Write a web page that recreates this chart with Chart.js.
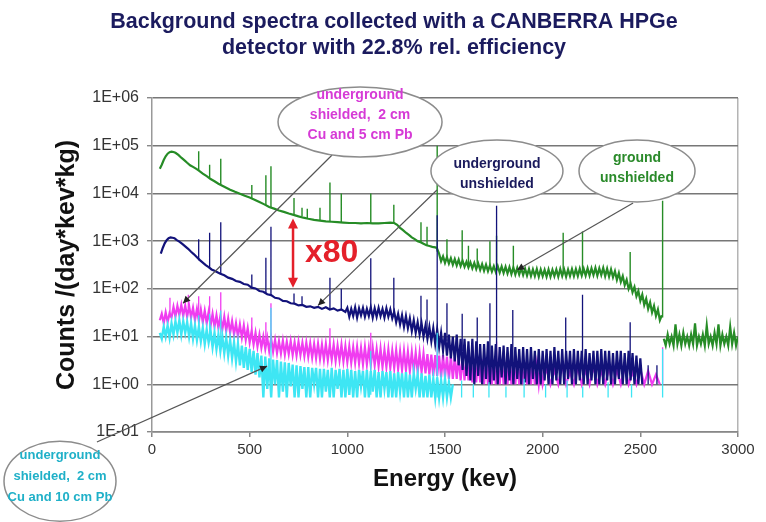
<!DOCTYPE html>
<html><head><meta charset="utf-8">
<script src="https://cdn.jsdelivr.net/npm/chart.js@4.4.0/dist/chart.umd.min.js"></script>
<style>html,body{margin:0;padding:0;background:#fff}canvas{display:block}</style>
</head><body>
<canvas id="c" width="766" height="522"></canvas>
<script>
// ---------- axis ticks ----------
const energyTicks = [0, 500, 1000, 1500, 2000, 2500, 3000];
const countTicks = [0.1, 1, 10, 100, 1000, 10000, 100000, 1000000];
const countLabels = ['1E-01', '1E+00', '1E+01', '1E+02', '1E+03', '1E+04', '1E+05', '1E+06'];
const titleLines = ['Background spectra collected with a CANBERRA HPGe', 'detector with 22.8% rel. efficiency'];

// ---------- ground unshielded (green) ----------
const groundSmoothE = [40,50,60,70,80,90,100,110,120,135,150,165,180,195,210,225,240,260,280,300,320,340,360,380,400,425,450,475,500,525,550,575,600,625,650,675,700,725,750,775,800,830,860,890,920,950,980,1010,1040,1070,1100,1130,1160,1190,1220,1240,1255,1270,1285,1300,1315,1330,1345,1360,1375,1390,1405,1420,1435,1450,1458];
const groundSmoothC = [3.3e4,4.0e4,5.0e4,6.0e4,6.8e4,7.3e4,7.5e4,7.4e4,7.1e4,6.4e4,5.6e4,5.0e4,4.4e4,3.9e4,3.6e4,3.3e4,3.0e4,2.6e4,2.3e4,2.0e4,1.8e4,1.6e4,1.45e4,1.32e4,1.2e4,1.08e4,9.8e3,8.9e3,8.2e3,7.4e3,6.6e3,5.9e3,5.2e3,4.8e3,4.4e3,4.1e3,3.8e3,3.55e3,3.3e3,3.1e3,2.95e3,2.8e3,2.7e3,2.6e3,2.55e3,2.5e3,2.45e3,2.4e3,2.4e3,2.35e3,2.4e3,2.35e3,2.35e3,2.4e3,2.45e3,2.4e3,2.2e3,1.9e3,1.7e3,1.5e3,1.35e3,1.2e3,1.1e3,1.0e3,950,880,820,790,760,740,720];
const groundNoisyE = [1470,1480,1490,1500,1510,1520,1530,1540,1550,1560,1570,1580,1590,1600,1610,1620,1630,1640,1650,1660,1670,1680,1690,1700,1710,1720,1730,1740,1750,1760,1770,1780,1790,1800,1810,1820,1830,1840,1850,1860,1870,1880,1890,1900,1910,1920,1930,1940,1950,1960,1970,1980,1990,2000,2010,2020,2030,2040,2050,2060,2070,2080,2090,2100,2110,2120,2130,2140,2150,2160,2170,2180,2190,2200,2210,2220,2230,2240,2250,2260,2270,2280,2290,2300,2310,2320,2330,2340,2350,2360,2370,2380,2390,2400,2410,2420,2430,2440,2450,2460,2470,2480,2490,2500,2510,2520,2530,2540,2550,2560,2570,2580,2590,2600,2610];
const groundNoisyC = [540,380,480,350,460,340,440,320,420,310,
  410,300,390,290,370,280,360,270,350,260,
  340,250,330,240,320,235,310,230,300,225,
  300,220,295,215,290,210,285,205,280,200,
  275,200,270,195,265,190,260,185,255,185,
  260,180,255,185,250,180,255,180,250,185,
  255,180,260,185,255,180,255,185,260,185,
  260,185,265,190,265,190,270,190,270,195,
  275,190,270,195,275,185,265,180,255,175,
  235,155,215,140,185,120,155,100,130,85,
  110,70,90,56,76,46,62,38,52,32,
  44,27,37,22,28];
const groundTailE = [2620,2630,2640,2650,2660,2670,2680,2690,2700,2710,2720,2730,2740,2750,2760,2770,2780,2790,2800,2810,2820,2830,2840,2850,2860,2870,2880,2890,2900,2910,2920,2930,2940,2950,2960,2970,2980,2990,3000];
const groundTailC = [9,6.5,11,7,10,6.5,18,7,11,6.5,
  12,7,10,6.5,11,7,19,6.5,10,7,
  11,6.5,17,7,10,6.5,12,7,18,6.5,
  11,7,10,6.5,16,7,12,6.5,10];
const groundPeakE    = [239,295,352,511,583,609,727,768,795,860,911,969,1120,1238,1377,1408,1460,1510,1588,1620,1665,1730,1764,1850,2105,2204,2448,2614];
const groundPeakTop  = [7.7e4,4.0e4,5.3e4,1.5e4,2.4e4,3.7e4,8.0e3,5.0e3,4.8e3,5.0e3,1.7e4,1.0e4,1.0e4,5.8e3,2.5e3,2.0e3,1.0e5,1.1e3,1.7e3,800,700,1.0e3,1.3e3,800,1.5e3,1.6e3,590,7.0e3];
const groundPeakBase = [3.0e4,2.05e4,1.55e4,8.0e3,5.7e3,5.1e3,3.6e3,3.3e3,3.0e3,2.7e3,2.55e3,2.45e3,2.3e3,2.35e3,920,800,600,420,350,330,320,290,280,260,220,230,130,25];

// ---------- underground unshielded (navy) ----------
const ugSmoothE = [45,55,65,75,85,95,105,115,125,140,155,170,185,200,215,230,245,260,275,290,305,320,335,350,370,390,410,430,450,470,490,510,530,550,570,590,610,630,650,670,690,710,730,750,770,790,810,830,850,870,890,910,930,950,970,990];
const ugSmoothC = [550,720,900,1050,1150,1200,1180,1150,1060,980,880,780,690,600,530,460,400,355,315,285,255,240,222,208,192,172,162,146,140,126,122,106,102,90,87,77,74,65,63,56,55,50,49,45,46,42,43,40,42,38,41,37,39,35,37,33];
const ugNoisyE = [1000,1010,1020,1030,1040,1050,1060,1070,1080,1090,1100,1110,1120,1130,1140,1150,1160,1170,1180,1190,1200,1210,1220,1230,1240,1250,1260,1270,1280,1290,1300,1310,1320,1330,1340,1350,1360,1370,1380,1390,1400,1410,1420,1430,1440,1450,1460,1470,1480,1490,1500,1510,1520,1530,1540,1550,1560,1570,1580,1590,1600,1610,1620,1630,1640,1650,1660,1670,1680,1690,1700,1710,1720,1730,1740,1750,1760,1770,1780,1790,1800,1810,1820,1830,1840,1850,1860,1870,1880,1890,1900,1910,1920,1930,1940,1950,1960,1970,1980,1990,2000,2010,2020,2030,2040,2050,2060,2070,2080,2090,2100,2110,2120,2130,2140,2150,2160,2170,2180,2190,2200,2210,2220,2230,2240,2250,2260,2270,2280,2290,2300,2310,2320,2330,2340,2350,2360,2370,2380,2390,2400,2410,2420,2430,2440,2450,2460,2470,2480,2490,2500,2510];
const ugNoisyC = [40,26,38,27,41,25,39,28,40,26,
  38,27,41,25,39,26,40,27,38,25,
  39,26,37,24,33,20,30,18,28,16,
  27,15,24,13,22,12,20,11,19,10,
  17,9,16,8,15,7,14,6,12,5,
  12,4,11,3.5,10,3,11,2.5,9,2,
  9,1.5,8,1.2,9,1,8,1.5,7,1,
  7,1.3,8,1,6.5,1.2,7,1,6,1.4,
  6.5,1,6,1.2,7,1,6,1.3,5.5,1,
  6,1.1,5.5,1,6,1.3,5,1,5.5,1,
  5,1.2,5.5,1,5,1,6,1.2,5,1,
  5.5,1,5,1.3,5,1,5.5,1,5,1.2,
  5,1,5.5,1,4.5,1.2,5,1,5,1,
  5.5,1,5,1.2,5,1,4.5,1,5,1.3,
  5,1,4.5,1,5,1.2,4.5,1,4,1,
  3.5,1];
const ugPeakE    = [239,295,352,511,583,609,727,768,911,969,1120,1238,1377,1408,1460,1510,1588,1665,1730,1764,1847,2118,2204,2448,2540,2585];
const ugPeakTop  = [1100,1500,2500,200,450,2000,80,70,170,100,440,170,72,60,3500,50,30,25,50,5500,36,25,75,20,2.5,2.5];
const ugPeakBase = [400,270,210,108,80,72,50,45,38,35,30,28,14,12,10,8,5,4,3,3,3,3,3,2,1,1];

// ---------- underground shielded, 2 cm Cu + 5 cm Pb (magenta) ----------
const sh5E = [40,50,60,70,80,90,100,110,120,130,140,150,160,170,180,190,200,210,220,230,240,250,260,270,280,290,300,310,320,330,340,350,360,370,380,390,400,410,420,430,440,450,460,470,480,490,500,510,520,530,540,550,560,570,580,590,600,610,620,630,640,650,660,670,680,690,700,710,720,730,740,750,760,770,780,790,800,810,820,830,840,850,860,870,880,890,900,910,920,930,940,950,960,970,980,990,1000,1010,1020,1030,1040,1050,1060,1070,1080,1090,1100,1110,1120,1130,1140,1150,1160,1170,1180,1190,1200,1210,1220,1230,1240,1250,1260,1270,1280,1290,1300,1310,1320,1330,1340,1350,1360,1370,1380,1390,1400,1410,1420,1430,1440,1450,1460,1470,1480,1490,1500,1510,1520,1530,1540,1550,1560,1570,1580,1590,1600,1610,1620,1630,1640,1650,1660,1670,1680,1690,1700,1710,1720,1730,1740,1750,1760,1770,1780,1790,1800,1810,1820,1830,1840,1850,1860,1870,1880,1890,1900,1910,1920,1930,1940,1950,1960,1970,1980,1990,2000,
  2020,2040,2060,2080,2100,2120,2140,2160,2180,2200,2220,2240,2260,2280,2300,2320,2340,2360,2380,2400,2420,2440,2460,2480,2500,2520,2540,2560,2580,2600];
const sh5C = [22,30,19,32,20,31,25,42,26,44,
  28,46,27,45,26,44,25,40,22,38,
  21,37,20,35,19,33,17,30,16,28,
  15,27,14,26,13,24,12,21,11,19,
  10,18,9.5,17,8.5,15,7.5,13,6.8,12,
  6.2,11,5.8,10,5.5,9.5,5,9,4.8,8.5,
  4.5,8,4.4,8.2,4.2,7.8,4.3,8,4.1,7.6,
  4,7.8,4.1,7.4,3.9,7.5,3.8,7.2,3.6,7,
  3.5,7.1,3.4,6.8,3.3,7,3.2,6.6,3.3,6.8,
  3.1,6.5,3.2,6.7,3,6.3,2.9,6.2,2.8,6,
  2.8,6.1,2.7,5.8,2.6,6,2.6,5.7,2.5,5.8,
  2.5,5.5,2.4,5.6,2.3,5.3,2.3,5.4,2.2,5.1,
  2.2,5.2,2.1,4.9,2,5,2,4.8,1.9,4.7,
  1.9,4.6,1.8,4.5,1.8,4.4,1.7,4.3,1.6,4.2,
  1.5,4.1,1.5,4,1.4,4.1,1.4,3.8,1.3,3.9,
  1.3,3.7,1.3,3.8,1.2,3.6,1.2,3.5,1.2,3.6,
  1.1,3.4,1.1,3.5,1.1,3.3,1,3.2,1,3.1,
  1,3.2,1,3,1,3.1,1,2.9,1,3,
  1,2.8,1,2.9,1,2.7,1,2.8,1,2.6,
  1,2.7,1,2.5,1,2.6,1,
  2.2,1,2,1,2.5,1,1.8,1,2.3,1,
  2,1,2.4,1,1.9,1,2.2,1,2,1,
  2.3,1,1.8,1,2.1,1,1.9,1,1.6,1];
const sh5PeakE    = [92,186,239,295,352,511,583,609,911,1120,1460,1764,2614];
const sh5PeakTop  = [65,75,70,70,85,25,20,50,15,12,15,8,6];
const sh5PeakBase = [25,40,30,25,20,12,8,6,5,4,3,2,1];

// ---------- underground shielded, 2 cm Cu + 10 cm Pb (cyan) ----------
const sh10E = [40,50,60,70,80,90,100,110,120,130,140,150,160,170,180,190,200,210,220,230,240,250,260,270,280,290,300,310,320,330,340,350,360,370,380,390,400,410,420,430,440,450,460,470,480,490,500,510,520,530,540,550,560,570,580,590,600,610,620,630,640,650,660,670,680,690,700,710,720,730,740,750,760,770,780,790,800,810,820,830,840,850,860,870,880,890,900,910,920,930,940,950,960,970,980,990,1000,1010,1020,1030,1040,1050,1060,1070,1080,1090,1100,1110,1120,1130,1140,1150,1160,1170,1180,1190,1200,1210,1220,1230,1240,1250,1260,1270,1280,1290,1300,1310,1320,1330,1340,1350,1360,1370,1380,1390,1400,1410,1420,1430,1440,1450,1460,1470,1480,1490,1500,1510,1520,1530,1540];
const sh10C = [12,9,16,10,17,9.5,19,11,21,12,
  22,11,21,12,20,10,19,9,17,8.5,
  16,8,15,7,14,7.5,13,6,12,5.5,
  11,5,10,4.5,9.5,4,8.5,3.5,7.5,3,
  7,2.5,6.5,2.2,6,2,5.5,1.8,5,1.6,
  4.5,1.4,4,0.53,3.8,0.8,3.5,0.53,3.3,1,
  3.2,0.53,3,0.7,2.9,0.53,2.8,0.9,2.6,0.53,
  2.5,0.53,2.4,0.8,2.3,0.53,2.3,0.53,2.2,1,
  2.2,0.53,2.1,0.53,2.1,0.7,2,0.53,2.2,0.53,
  2,0.8,2.1,0.53,2,0.53,2.1,0.6,2,0.53,
  1.9,0.53,2,0.9,1.9,0.53,2,0.53,1.9,0.7,
  2,0.53,1.8,0.53,1.9,0.8,1.8,0.53,1.9,0.53,
  1.7,0.53,1.8,0.7,1.7,0.53,1.8,0.53,1.6,0.53,
  1.7,0.8,1.6,0.53,1.7,0.53,1.5,0.53,1.6,0.53,
  1.3,0.53,1.4,0.53,1.2,0.53,1.3,0.53,1.1,0.53,
  1.0];
const sh10PeakE    = [239,295,352,609,1120,1460,1585,1645,1725,1812,1905,2015,2125,2205,2335,2455,2614];
const sh10PeakTop  = [28,30,35,40,5,12,1.2,1,1.1,0.9,1.3,1,1.2,0.9,1.1,1,5.5];
const sh10PeakBase = [10,8,6,1,0.6,0.53,0.53,0.53,0.53,0.53,0.53,0.53,0.53,0.53,0.53,0.53,0.53];

// ---------- annotation texts ----------
const noteShield5 = ['underground', 'shielded,  2 cm', 'Cu and 5 cm Pb'];
const noteUnder = ['underground', 'unshielded'];
const noteGround = ['ground', 'unshielded'];
const noteShield10 = ['underground', 'shielded,  2 cm', 'Cu and 10 cm Pb'];
const ratioLabel = 'x80';

// ---------- helpers ----------
const FONT = "'Liberation Sans', Arial, Helvetica, sans-serif";
const COL = {green:'#268c26', navy:'#12127a', magenta:'#f03cf0', cyan:'#3ee6f4'};
function pairs(E, C){ return E.map((e,i)=>({x:e, y:C[i]})); }
function spikes(E, T, B){ const o=[]; E.forEach((e,i)=>{ o.push({x:e,y:B[i]},{x:e,y:T[i]},{x:e,y:null}); }); return o; }
function ds(label, data, color, order, w){
  return {label, data, borderColor:color, backgroundColor:color, borderWidth:w, pointRadius:0, fill:false, tension:0, spanGaps:false, order};
}

const datasets = [
  ds('ground unshielded', [...pairs(groundSmoothE,groundSmoothC), ...pairs(groundNoisyE,groundNoisyC), {x:2615,y:null}, ...pairs(groundTailE,groundTailC)], COL.green, 3, 2.2),
  ds('ground peaks', spikes(groundPeakE,groundPeakTop,groundPeakBase), COL.green, 3, 1.4),
  ds('underground shielded 5 cm Pb', pairs(sh5E,sh5C), COL.magenta, 2, 2.2),
  ds('sh5 peaks', spikes(sh5PeakE,sh5PeakTop,sh5PeakBase), COL.magenta, 2, 1.3),
  ds('underground unshielded', [...pairs(ugSmoothE,ugSmoothC), ...pairs(ugNoisyE,ugNoisyC)], COL.navy, 1, 2.2),
  ds('ug peaks', spikes(ugPeakE,ugPeakTop,ugPeakBase), COL.navy, 1, 1.3),
  ds('underground shielded 10 cm Pb', pairs(sh10E,sh10C), COL.cyan, 0, 2.4),
  ds('sh10 peaks', spikes(sh10PeakE,sh10PeakTop,sh10PeakBase), COL.cyan, 0, 1.3)
];

const notes = [
  {lines:noteShield5, color:'#d63ad6', at:[1065,3.14e5], rx:82, ry:35, dy:-7, from:[922,6.4e4], to:[159,50], size:14, gap:20},
  {lines:noteUnder, color:'#1a1a5c', at:[1766,2.95e4], rx:66, ry:31, dy:3, from:[1459,1.18e4], to:[850,45], size:14, gap:20},
  {lines:noteGround, color:'#2a8a2a', at:[2483,2.95e4], rx:58, ry:31, dy:-3, from:[2463,6.3e3], to:[1869,248], size:14, gap:20},
  {lines:noteShield10, color:'#1fb0c8', at:[-471,0.0093], rx:56, ry:40, dy:-5, from:[-282,0.0615], to:[589,2.4], size:13, gap:21}
];
const ratioArrow = {x:722, top:3.0e3, bottom:105, label:[783,560]};

const annot = {
  id:'annot',
  afterDraw(chart){
    const ctx = chart.ctx, xs = chart.scales.x, ys = chart.scales.y;
    const px = v => xs.getPixelForValue(v), py = v => ys.getPixelForValue(v);
    ctx.save();
    // title
    ctx.fillStyle = '#1b1b5e';
    ctx.font = `bold 21.5px ${FONT}`;
    ctx.textAlign = 'center'; ctx.textBaseline = 'middle';
    titleLines.forEach((t,i)=>ctx.fillText(t, 394, 22 + 26*i));
    // leader lines
    notes.forEach(n=>{
      const x1=px(n.from[0]), y1=py(n.from[1]), x2=px(n.to[0]), y2=py(n.to[1]);
      ctx.strokeStyle='#555'; ctx.lineWidth=1.2;
      ctx.beginPath(); ctx.moveTo(x1,y1); ctx.lineTo(x2,y2); ctx.stroke();
      const a=Math.atan2(y2-y1,x2-x1), L=7, W=3.5;
      ctx.fillStyle='#222';
      ctx.beginPath();
      ctx.moveTo(x2,y2);
      ctx.lineTo(x2-L*Math.cos(a)+W*Math.sin(a), y2-L*Math.sin(a)-W*Math.cos(a));
      ctx.lineTo(x2-L*Math.cos(a)-W*Math.sin(a), y2-L*Math.sin(a)+W*Math.cos(a));
      ctx.closePath(); ctx.fill();
    });
    // ellipses + texts
    notes.forEach(n=>{
      const cx=px(n.at[0]), cy=py(n.at[1]);
      ctx.beginPath(); ctx.ellipse(cx,cy,n.rx,n.ry,0,0,Math.PI*2);
      ctx.fillStyle='#ffffff'; ctx.fill();
      ctx.strokeStyle='#8c8c8c'; ctx.lineWidth=1.5; ctx.stroke();
      ctx.fillStyle=n.color; ctx.font=`bold ${n.size}px ${FONT}`;
      ctx.textAlign='center'; ctx.textBaseline='middle';
      const y0 = cy + n.dy - (n.lines.length-1)*n.gap/2;
      n.lines.forEach((t,i)=>ctx.fillText(t, cx, y0 + i*n.gap));
    });
    // red double arrow
    const ax=px(ratioArrow.x), at=py(ratioArrow.top), ab=py(ratioArrow.bottom);
    ctx.strokeStyle='#e4202a'; ctx.fillStyle='#e4202a'; ctx.lineWidth=2.5;
    ctx.beginPath(); ctx.moveTo(ax,at+8); ctx.lineTo(ax,ab-8); ctx.stroke();
    ctx.beginPath(); ctx.moveTo(ax,at); ctx.lineTo(ax-5,at+10); ctx.lineTo(ax+5,at+10); ctx.closePath(); ctx.fill();
    ctx.beginPath(); ctx.moveTo(ax,ab); ctx.lineTo(ax-5,ab-10); ctx.lineTo(ax+5,ab-10); ctx.closePath(); ctx.fill();
    ctx.font=`bold 32px ${FONT}`; ctx.textAlign='left'; ctx.textBaseline='middle';
    ctx.fillText(ratioLabel, px(ratioArrow.label[0]), py(ratioArrow.label[1]));
    ctx.restore();
  }
};

new Chart(document.getElementById('c'), {
  type:'line',
  data:{datasets},
  plugins:[annot],
  options:{
    responsive:false, animation:false, devicePixelRatio:1, events:[],
    layout:{padding:{left:0, right:28, top:98, bottom:0}},
    plugins:{legend:{display:false}, tooltip:{enabled:false}, title:{display:false}},
    scales:{
      x:{type:'linear', min:0, max:3000,
        afterBuildTicks:s=>{ s.ticks = energyTicks.map(v=>({value:v})); },
        afterFit:s=>{ s.height = 90; },
        ticks:{callback:v=>String(v), font:{family:FONT,size:15}, color:'#333', padding:4, maxRotation:0, autoSkip:false},
        grid:{drawOnChartArea:true, color:c=>(c.tick && c.tick.value===3000)?'#b4b4b4':'rgba(0,0,0,0)', lineWidth:1.5, tickLength:5, tickColor:'#888', tickWidth:1.5},
        border:{display:true, color:'#888', width:1.5},
        title:{display:true, text:'Energy (kev)', font:{family:FONT,size:24,weight:'bold'}, color:'#111', padding:{top:0,bottom:28}}
      },
      y:{type:'logarithmic', min:0.1, max:1e6,
        afterBuildTicks:s=>{ s.ticks = countTicks.map(v=>({value:v})); },
        afterFit:s=>{ s.width = 152; },
        ticks:{callback:(v,i)=>countLabels[i], font:{family:FONT,size:16}, color:'#333', padding:8, autoSkip:false},
        grid:{color:'#777', lineWidth:1.4, tickLength:5, tickColor:'#888'},
        border:{display:true, color:'#999', width:1.5},
        title:{display:true, text:'Counts /(day*kev*kg)', font:{family:FONT,size:25,weight:'bold'}, color:'#111', padding:{top:52,bottom:0}}
      }
    }
  }
});
</script>
</body></html>
